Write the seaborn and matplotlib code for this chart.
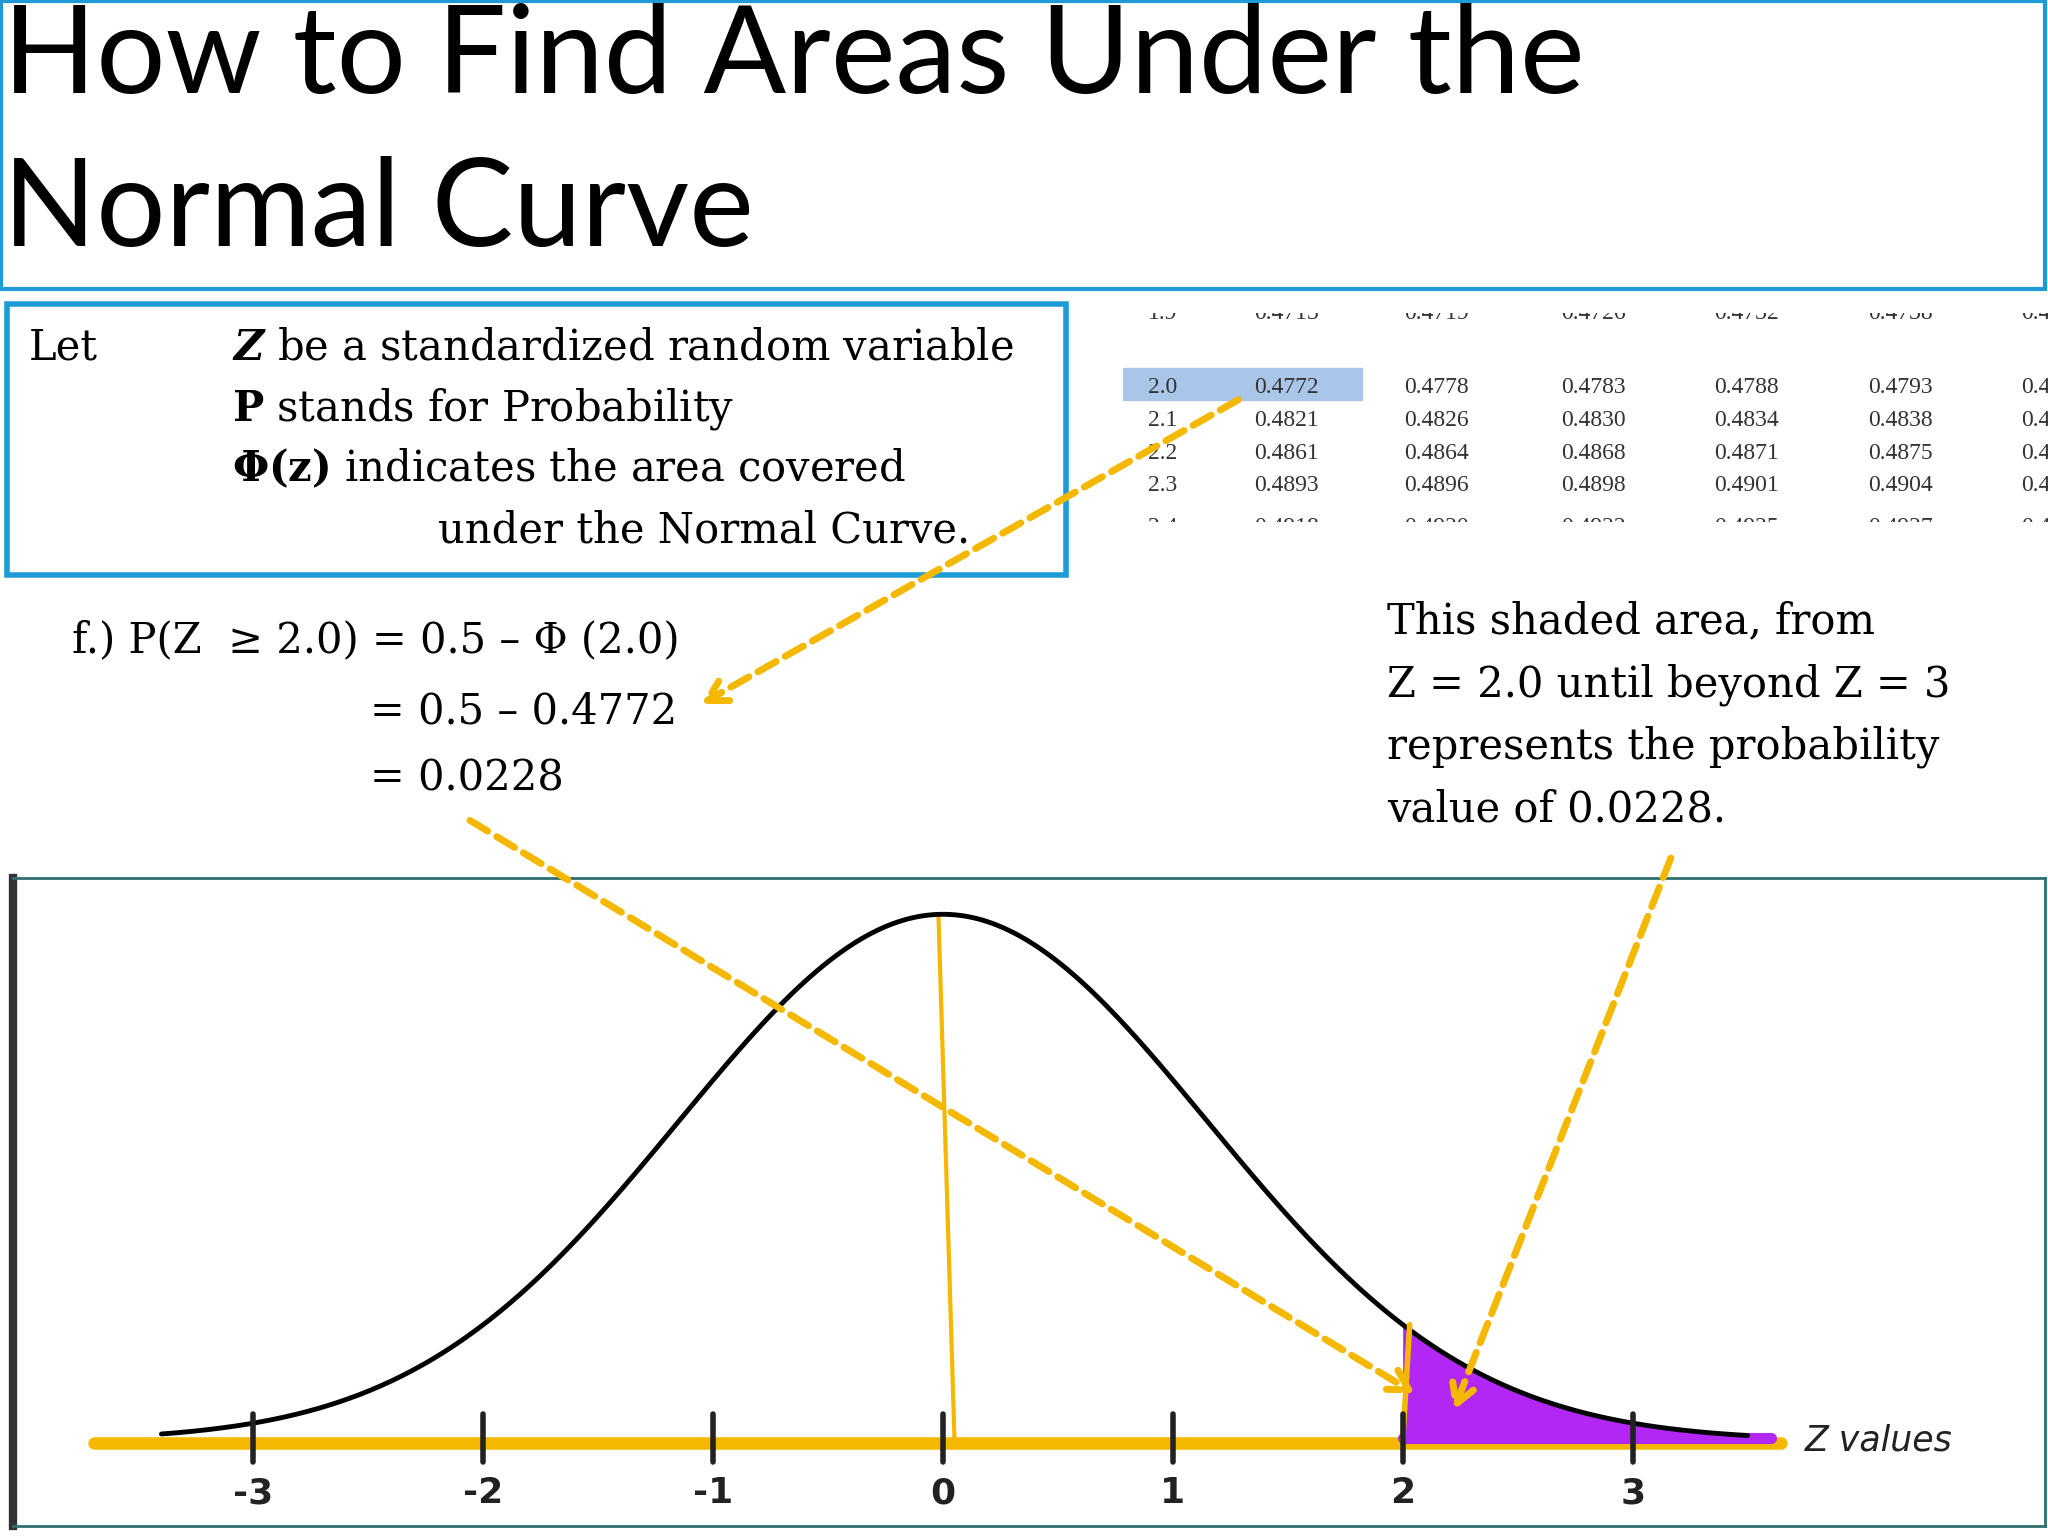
import numpy as np
import matplotlib
matplotlib.use("Agg")
import matplotlib.pyplot as plt
import seaborn as sns
from matplotlib.patches import Rectangle

sns.set_theme(style="white")
plt.rcParams['font.family'] = ['DejaVu Serif', 'Liberation Serif']
plt.rcParams['mathtext.fontset'] = 'dejavuserif'
plt.rcParams['text.color'] = 'black'

# ---- data ----
z_ticks = [-3, -2, -1, 0, 1, 2, 3]
shade_from = 2.0
curve_sigma = 1.15
table_rows = ["1.9", "2.0", "2.1", "2.2", "2.3", "2.4"]
table_vals = [
    ["0.4713", "0.4719", "0.4726", "0.4732", "0.4738", "0.4744"],
    ["0.4772", "0.4778", "0.4783", "0.4788", "0.4793", "0.4798"],
    ["0.4821", "0.4826", "0.4830", "0.4834", "0.4838", "0.4842"],
    ["0.4861", "0.4864", "0.4868", "0.4871", "0.4875", "0.4878"],
    ["0.4893", "0.4896", "0.4898", "0.4901", "0.4904", "0.4906"],
    ["0.4918", "0.4920", "0.4922", "0.4925", "0.4927", "0.4929"],
]

W, H = 1568, 1176
def fx(x): return x / W
def fy(y): return 1 - y / H

fig = plt.figure(figsize=(20.48, 15.36), dpi=100)
fig.patch.set_facecolor("white")
BLUE = "#1E9BD7"
YEL = "#F5B800"

# title box
fig.patches.append(Rectangle((fx(1), fy(221)), fx(1565), 220 / H, transform=fig.transFigure,
                             fill=False, ec=BLUE, lw=3))
fig.text(fx(2), fy(45), "How to Find Areas Under the", fontsize=88, va="center",
         family=["Lato", "DejaVu Sans"], color="black")
fig.text(fx(2), fy(162), "Normal Curve", fontsize=88, va="center", family=["Lato", "DejaVu Sans"],
         color="black")

# Let box
fig.patches.append(Rectangle((fx(5), fy(440)), fx(811), 207 / H, transform=fig.transFigure,
                             fill=False, ec=BLUE, lw=4))
fs = 30
fig.text(fx(22), fy(266), "Let", fontsize=fs, va="center")
fig.text(fx(178), fy(266), r"$\boldsymbol{Z}$ be a standardized random variable", fontsize=fs, va="center")
fig.text(fx(178), fy(313), r"$\mathbf{P}$ stands for Probability", fontsize=fs, va="center")
fig.text(fx(178), fy(359), r"$\mathbf{\Phi(z)}$ indicates the area covered", fontsize=fs, va="center")
fig.text(fx(335), fy(406), "under the Normal Curve.", fontsize=fs, va="center")

# table crop
tax = fig.add_axes([fx(860), fy(400), fx(708), 160 / H])
tax.set_xlim(860, 1568); tax.set_ylim(400, 240)
tax.axis("off")
tax.add_patch(Rectangle((860, 282), 183, 24, color="#A9C6E8", zorder=0))
col_x = [985, 1100, 1220, 1337, 1455, 1572]
row_y = [240, 297, 322, 347, 372, 404]
for r, yy in zip(range(len(table_rows)), row_y):
    tax.text(890, yy, table_rows[r], fontsize=17, ha="center", va="center", color="#333",
             clip_on=True, family=["Liberation Serif"])
    for c, xx in enumerate(col_x):
        tax.text(xx, yy, table_vals[r][c], fontsize=17, ha="center", va="center", color="#333",
                 clip_on=True, family=["Liberation Serif"])

# equations
fs2 = 30
fig.text(fx(55), fy(490), "f.) P(Z  ≥ 2.0) = 0.5 – Φ (2.0)", fontsize=fs2, va="center")
fig.text(fx(283), fy(545), "= 0.5 – 0.4772", fontsize=fs2, va="center")
fig.text(fx(283), fy(596), "= 0.0228", fontsize=fs2, va="center")
for i, t in enumerate(["This shaded area, from", "Z = 2.0 until beyond Z = 3",
                       "represents the probability", "value of 0.0228."]):
    fig.text(fx(1062), fy(476 + 48 * i), t, fontsize=fs2, va="center")

# chart
x0, x1, yt, yb = 10, 1566, 672, 1168
ax = fig.add_axes([fx(x0), fy(yb), (x1 - x0) / W, (yb - yt) / H])
c0, s = 722, 176
ax.set_xlim((x0 - c0) / s, (x1 - c0) / s)
base, peak = 1103, 700
ax.set_ylim(-(yb - base) / (base - peak), (base - yt) / (base - peak))
for sp in ax.spines.values():
    sp.set_color("#2F6F6F"); sp.set_linewidth(2)
ax.spines["left"].set_linewidth(6); ax.spines["left"].set_color("#333")
ax.set_xticks([]); ax.set_yticks([])

z = np.linspace(-3.4, 3.5, 600)
pdf = np.exp(-z ** 2 / (2 * curve_sigma ** 2))
sns.lineplot(x=z, y=pdf, ax=ax, color="black", lw=3.5, zorder=3)
zz = z[z >= shade_from]
ax.fill_between(zz, 0.005, np.exp(-zz ** 2 / (2 * curve_sigma ** 2)), color="#B327F5", zorder=2)
ax.plot([shade_from, 3.6], [0.005, 0.005], color="#B327F5", lw=8, zorder=2)
ax.axhline(-0.005, xmin=0.04, xmax=0.87, color=YEL, lw=9, zorder=1)
ax.plot([-0.02, 0.05], [1.0, 0], color=YEL, lw=3, zorder=2)
ax.plot([2.03, 2.0], [np.exp(-2 / curve_sigma ** 2), 0], color=YEL, lw=4, zorder=4)
for t in z_ticks:
    ax.plot([t, t], [-0.04, 0.05], color="#222", lw=4, zorder=5)
    ax.text(t, -0.1, f"{t}", ha="center", va="center", fontsize=26, fontweight="bold",
            family=["DejaVu Sans"], color="#222")
ax.text(3.75, 0.0, "Z values", fontsize=25, style="italic", va="center", family=["DejaVu Sans"],
        color="#222")

# arrows
def arrow(p, q):
    fig.add_artist(matplotlib.patches.FancyArrowPatch(
        (fx(p[0]), fy(p[1])), (fx(q[0]), fy(q[1])), transform=fig.transFigure,
        arrowstyle="->,head_length=14,head_width=8", color=YEL, lw=5, linestyle=(0, (3, 1.5)),
        zorder=10))
arrow((950, 305), (535, 540))
arrow((358, 627), (1085, 1068))
arrow((1280, 655), (1112, 1082))

fig.savefig("out.png", dpi=100)
